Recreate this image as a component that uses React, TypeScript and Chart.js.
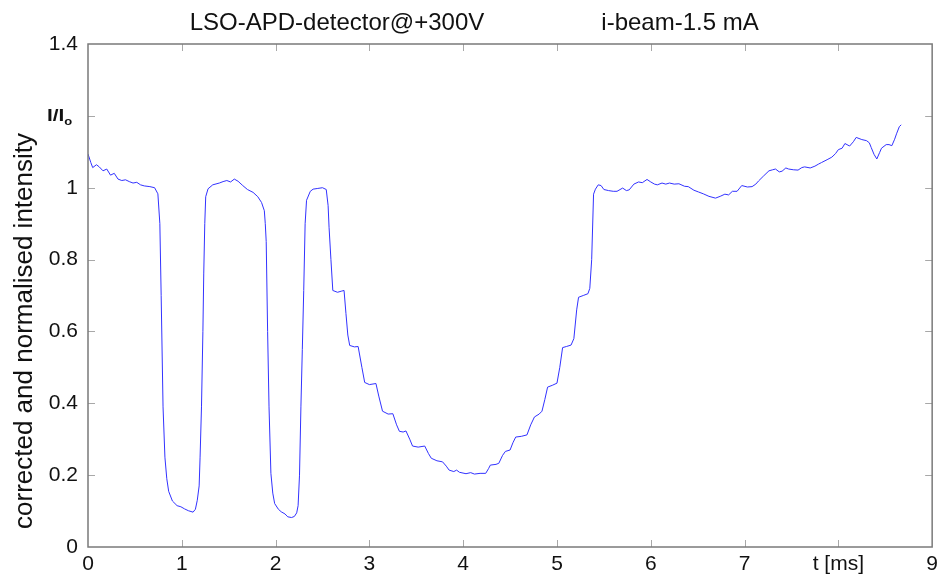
import React, { useEffect, useRef } from "react";
import { Chart, registerables } from "chart.js";

Chart.register(...registerables);

// time [ms]
const tValues: number[] = [
  0.0, 0.03, 0.05, 0.09, 0.12, 0.16, 0.2, 0.24, 0.28, 0.32, 0.36, 0.4, 0.44, 0.48, 0.52, 0.56, 0.6, 0.66, 0.71,
  0.745, 0.766, 0.78, 0.8, 0.82, 0.84, 0.86, 0.9, 0.95, 0.99, 1.03, 1.07, 1.12, 1.145, 1.165, 1.185, 1.195, 1.21,
  1.225, 1.234, 1.245, 1.255, 1.28, 1.33, 1.4, 1.44, 1.48, 1.52, 1.56, 1.6, 1.65, 1.7, 1.76, 1.81, 1.85, 1.88,
  1.89, 1.9, 1.915, 1.93, 1.95, 1.97, 1.99, 2.03, 2.06, 2.1, 2.13, 2.17, 2.2, 2.225, 2.24, 2.255, 2.27, 2.285,
  2.3, 2.315, 2.33, 2.37, 2.4, 2.45, 2.5, 2.54, 2.56, 2.57, 2.59, 2.61, 2.66, 2.7, 2.73, 2.75, 2.77, 2.79, 2.84,
  2.88, 2.92, 2.95, 3.0, 3.07, 3.1, 3.14, 3.2, 3.25, 3.29, 3.32, 3.36, 3.39, 3.43, 3.46, 3.52, 3.59, 3.63, 3.66,
  3.72, 3.78, 3.82, 3.85, 3.9, 3.93, 3.96, 4.03, 4.08, 4.12, 4.18, 4.24, 4.27, 4.29, 4.35, 4.38, 4.42, 4.45, 4.5,
  4.53, 4.56, 4.62, 4.68, 4.72, 4.76, 4.81, 4.84, 4.87, 4.9, 4.95, 5.0, 5.03, 5.06, 5.1, 5.15, 5.18, 5.21, 5.23,
  5.28, 5.33, 5.35, 5.37, 5.39, 5.41, 5.44, 5.47, 5.5, 5.55, 5.6, 5.64, 5.7, 5.74, 5.77, 5.82, 5.87, 5.91, 5.96,
  6.0, 6.04, 6.07, 6.12, 6.16, 6.2, 6.25, 6.3, 6.36, 6.4, 6.46, 6.51, 6.56, 6.62, 6.69, 6.74, 6.79, 6.83, 6.87,
  6.92, 6.97, 7.03, 7.08, 7.12, 7.15, 7.2, 7.26, 7.3, 7.33, 7.37, 7.4, 7.44, 7.47, 7.52, 7.57, 7.61, 7.64, 7.7,
  7.75, 7.79, 7.82, 7.88, 7.93, 7.97, 8.0, 8.04, 8.07, 8.12, 8.16, 8.19, 8.25, 8.3, 8.33, 8.35, 8.38, 8.41, 8.44,
  8.46, 8.51, 8.54, 8.57, 8.6, 8.62, 8.65, 8.67,
];

// corrected and normalised intensity I/I0
const intensity: number[] = [
  1.094, 1.07, 1.056, 1.064, 1.058, 1.047, 1.052, 1.035, 1.04, 1.024, 1.02, 1.022, 1.017, 1.013, 1.015, 1.008,
  1.005, 1.003, 1.0, 0.983, 0.9, 0.7, 0.39, 0.25, 0.19, 0.155, 0.128, 0.115, 0.112, 0.106, 0.101, 0.097, 0.105,
  0.13, 0.17, 0.25, 0.39, 0.6, 0.76, 0.9, 0.975, 0.997, 1.008, 1.013, 1.017, 1.02, 1.016, 1.024, 1.018, 1.006,
  0.995, 0.987, 0.975, 0.959, 0.936, 0.9, 0.85, 0.6, 0.39, 0.205, 0.15, 0.121, 0.105, 0.098, 0.092, 0.084, 0.082,
  0.085, 0.095, 0.115, 0.2, 0.39, 0.55, 0.714, 0.9, 0.965, 0.99, 0.996, 0.998, 1.0, 0.995, 0.95, 0.89, 0.8, 0.714,
  0.709, 0.712, 0.714, 0.65, 0.59, 0.561, 0.557, 0.558, 0.5, 0.458, 0.452, 0.455, 0.42, 0.378, 0.37, 0.371, 0.34,
  0.322, 0.32, 0.323, 0.3, 0.281, 0.278, 0.281, 0.26, 0.247, 0.24, 0.237, 0.225, 0.214, 0.21, 0.214, 0.208, 0.204,
  0.207, 0.203, 0.205, 0.205, 0.218, 0.228, 0.23, 0.233, 0.255, 0.266, 0.27, 0.29, 0.306, 0.308, 0.312, 0.34,
  0.362, 0.37, 0.378, 0.41, 0.445, 0.45, 0.456, 0.5, 0.555, 0.558, 0.562, 0.58, 0.66, 0.695, 0.7, 0.705, 0.72,
  0.8, 0.982, 0.996, 1.008, 1.006, 0.995, 0.992, 0.99, 0.99, 0.999, 0.992, 0.994, 1.01, 1.016, 1.014, 1.023,
  1.016, 1.01, 1.008, 1.013, 1.01, 1.013, 1.01, 1.011, 1.004, 1.003, 0.993, 0.988, 0.983, 0.976, 0.971, 0.976,
  0.982, 0.98, 0.99, 0.99, 1.006, 1.002, 1.003, 1.01, 1.019, 1.032, 1.047, 1.05, 1.052, 1.044, 1.046, 1.055,
  1.052, 1.05, 1.049, 1.056, 1.058, 1.055, 1.06, 1.066, 1.07, 1.078, 1.085, 1.095, 1.106, 1.11, 1.123, 1.116,
  1.128, 1.14, 1.134, 1.131, 1.125, 1.112, 1.093, 1.08, 1.098, 1.11, 1.12, 1.12, 1.117, 1.135, 1.15, 1.17, 1.175,
];

const xTicks: number[] = [0, 1, 2, 3, 4, 5, 6, 7, 8, 9];
const xTickLabels: string[] = ["0", "1", "2", "3", "4", "5", "6", "7", "t [ms]", "9"];
const yTicks: number[] = [0, 0.2, 0.4, 0.6, 0.8, 1, 1.2, 1.4];
const yTickLabels: string[] = ["0", "0.2", "0.4", "0.6", "0.8", "1", "", "1.4"];
const titleLeft = "LSO-APD-detector@+300V";
const titleRight = "i-beam-1.5 mA";
const yAxisTitle = "corrected and normalised intensity";

const FONT = "'Liberation Sans', Arial, Helvetica, sans-serif";

const framePlugin = {
  id: "frameAndText",
  afterDraw(chart: any) {
    const { ctx, chartArea, scales } = chart;
    const { left, right, top, bottom } = chartArea;
    const xs = scales.x;
    const ys = scales.y;
    ctx.save();
    // inner ticks
    ctx.strokeStyle = "#a8a8a8";
    ctx.lineWidth = 1;
    const tl = 7;
    ctx.beginPath();
    xTicks.forEach((v) => {
      if (v <= 0 || v >= 9) return;
      const px = Math.round(xs.getPixelForValue(v)) + 0.5;
      ctx.moveTo(px, bottom);
      ctx.lineTo(px, bottom - tl);
      ctx.moveTo(px, top);
      ctx.lineTo(px, top + tl);
    });
    yTicks.forEach((v) => {
      if (v <= 0 || v >= 1.4) return;
      const py = Math.round(ys.getPixelForValue(v)) + 0.5;
      ctx.moveTo(left, py);
      ctx.lineTo(left + tl, py);
      ctx.moveTo(right, py);
      ctx.lineTo(right - tl, py);
    });
    ctx.stroke();
    // frame
    ctx.strokeStyle = "#7a7a7a";
    ctx.lineWidth = 1.5;
    ctx.strokeRect(left, top, right - left, bottom - top);

    // titles
    ctx.fillStyle = "#111";
    ctx.font = `24px ${FONT}`;
    ctx.textAlign = "center";
    ctx.textBaseline = "alphabetic";
    ctx.fillText(titleLeft, 337, 30);
    ctx.fillText(titleRight, 680, 30);

    // y-axis title
    ctx.save();
    ctx.translate(32, 331);
    ctx.rotate(-Math.PI / 2);
    ctx.font = `26px ${FONT}`;
    ctx.textAlign = "center";
    ctx.fillText(yAxisTitle, 0, 0);
    ctx.restore();

    // I/I0 label at 1.2
    const py12 = ys.getPixelForValue(1.2);
    ctx.save();
    ctx.translate(47, py12 + 5);
    ctx.scale(1.3, 1);
    ctx.font = `bold 16px ${FONT}`;
    ctx.textAlign = "left";
    ctx.fillText("I/I", 0, 0);
    const w = ctx.measureText("I/I").width;
    ctx.font = `bold 10px ${FONT}`;
    ctx.fillText("o", w, 4);
    ctx.restore();

    ctx.restore();
  },
};

export default function App() {
  const ref = useRef<HTMLCanvasElement | null>(null);
  useEffect(() => {
    if (!ref.current) return;
    const points = tValues.map((t, i) => ({ x: t, y: intensity[i] }));
    const chart = new Chart(ref.current, {
      type: "line",
      data: {
        datasets: [
          {
            data: points,
            borderColor: "rgb(50,50,255)",
            borderWidth: 1,
            pointRadius: 0,
            tension: 0,
            fill: false,
          },
        ],
      },
      options: {
        animation: false,
        responsive: false,
        maintainAspectRatio: false,
        layout: { padding: { left: 0, right: 9, top: 44, bottom: 0 } },
        plugins: { legend: { display: false }, tooltip: { enabled: false }, title: { display: false } },
        scales: {
          x: {
            type: "linear",
            min: 0,
            max: 9,
            afterBuildTicks: (s: any) => {
              s.ticks = xTicks.map((v) => ({ value: v }));
            },
            afterFit: (s: any) => {
              s.height = 30;
            },
            grid: { display: false, drawTicks: false },
            border: { display: false },
            ticks: {
              padding: 5,
              maxRotation: 0,
              autoSkip: false,
              color: "#111",
              font: { family: FONT, size: 21 },
              callback: (v: any) => {
                const i = xTicks.indexOf(Number(v));
                return i >= 0 ? xTickLabels[i] : "";
              },
            },
          },
          y: {
            type: "linear",
            min: 0,
            max: 1.4,
            afterBuildTicks: (s: any) => {
              s.ticks = yTicks.map((v) => ({ value: v }));
            },
            afterFit: (s: any) => {
              s.width = 88;
            },
            grid: { display: false, drawTicks: false },
            border: { display: false },
            ticks: {
              padding: 10,
              autoSkip: false,
              color: "#111",
              font: { family: FONT, size: 21 },
              callback: (v: any) => {
                const i = yTicks.findIndex((t) => Math.abs(t - Number(v)) < 1e-6);
                return i >= 0 ? yTickLabels[i] : "";
              },
            },
          },
        },
      },
      plugins: [framePlugin],
    });
    return () => chart.destroy();
  }, []);
  return (
    <div style={{ position: "absolute", left: 0, top: 0, width: 943, height: 577, background: "#fff" }}>
      <canvas ref={ref} width={943} height={577} style={{ display: "block" }} />
    </div>
  );
}
